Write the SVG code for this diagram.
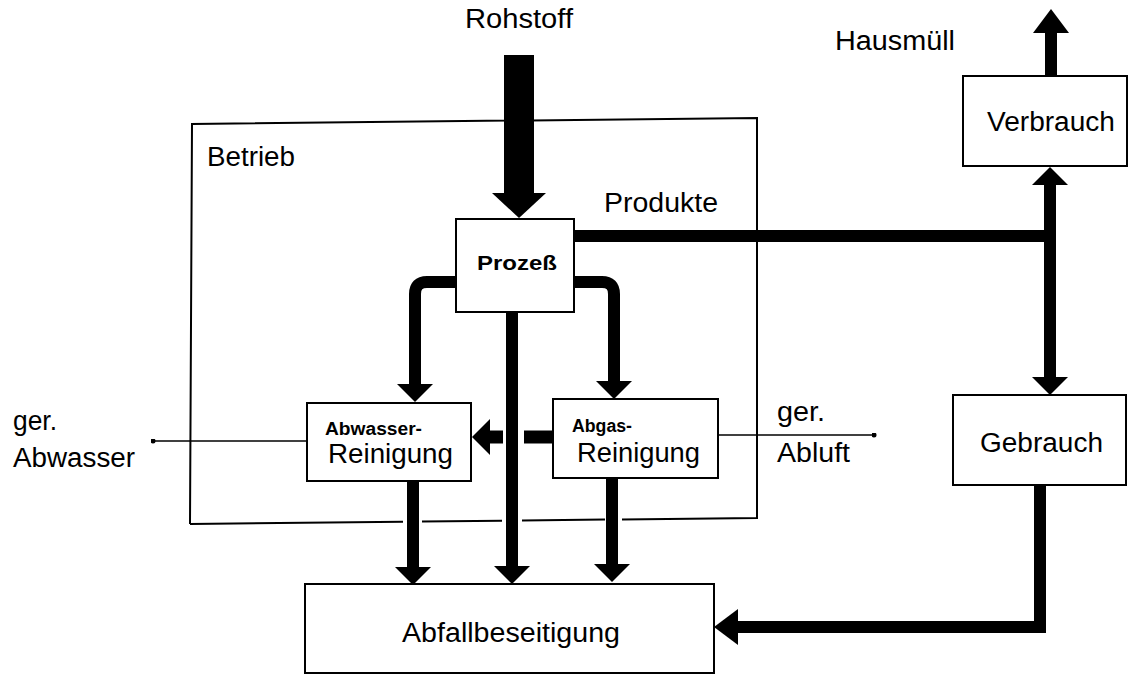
<svg xmlns="http://www.w3.org/2000/svg" width="1130" height="675" viewBox="0 0 1130 675">
  <style>
    .box { fill: #fff; stroke: #000; stroke-width: 2; }
    .frame { fill: none; stroke: #000; stroke-width: 2; }
    .flow { fill: none; stroke: #000; stroke-width: 12; stroke-linejoin: miter; }
    .thin { fill: none; stroke: #000; stroke-width: 1.6; }
    .lbl { font-family: "Liberation Sans", Arial, sans-serif; font-size: 27px; fill: #000; }
    .sm { font-family: "Liberation Sans", Arial, sans-serif; font-size: 18px; font-weight: bold; fill: #000; }
    .pz { font-family: "Liberation Sans", Arial, sans-serif; font-size: 20px; font-weight: bold; fill: #000; }
  </style>
  <defs>
    <marker id="head" viewBox="0 0 18 36" refX="0" refY="18" markerWidth="18" markerHeight="36" markerUnits="userSpaceOnUse" orient="auto-start-reverse">
      <path d="M0,0 L18,18 L0,36 Z" fill="#000"/>
    </marker>
    <marker id="headL" viewBox="0 0 24 36" refX="0" refY="18" markerWidth="24" markerHeight="36" markerUnits="userSpaceOnUse" orient="auto">
      <path d="M0,0 L24,18 L0,36 Z" fill="#000"/>
    </marker>
    <marker id="headXL" viewBox="0 0 25 54" refX="0" refY="27" markerWidth="25" markerHeight="54" markerUnits="userSpaceOnUse" orient="auto">
      <path d="M0,0 L25,27 L0,54 Z" fill="#000"/>
    </marker>
    <marker id="dot" viewBox="0 0 6 6" refX="3" refY="3" markerWidth="5" markerHeight="5" markerUnits="userSpaceOnUse">
      <circle cx="3" cy="3" r="3" fill="#000"/>
    </marker>
  </defs>

  <rect width="1130" height="675" fill="#fff"/>

  <!-- plant boundary; bottom edge left open where the waste flows pass -->
  <g id="betrieb">
    <path class="frame" d="M190,524 L192,124 L757,118 L757,518 L622,519.4 M605,519.6 L522,520.5 M502,520.7 L422,521.5 M403,521.7 L190,524"/>
    <text class="lbl" x="207" y="166" textLength="88" lengthAdjust="spacingAndGlyphs">Betrieb</text>
  </g>

  <g id="connectors">
    <!-- raw material into the process -->
    <path class="flow" style="stroke-width:30" d="M519,55 V193" marker-end="url(#headXL)"/>
    <!-- process to the two cleaning stages -->
    <path class="flow" d="M456,282 H427 Q415,282 415,294 V384" marker-end="url(#head)"/>
    <path class="flow" d="M574,282 H602 Q614,282 614,294 V381" marker-end="url(#head)"/>
    <!-- waste streams down to disposal -->
    <path class="flow" d="M512,312 V566" marker-end="url(#head)"/>
    <path class="flow" d="M413,481 V567" marker-end="url(#head)"/>
    <path class="flow" d="M612,478 V564" marker-end="url(#head)"/>
    <!-- exhaust cleaning residue to waste water cleaning -->
    <path class="flow" style="stroke-width:13" d="M553,437 H524"/>
    <path class="flow" style="stroke-width:13" d="M503,437 H490" marker-end="url(#head)"/>
    <!-- products to the consumer side -->
    <path class="flow" d="M574,236 H1056"/>
    <path class="flow" d="M1050,185 V377" marker-start="url(#head)" marker-end="url(#head)"/>
    <path class="flow" d="M1051,76 V33" marker-end="url(#headL)"/>
    <path class="flow" d="M1040,485 V627 H738" marker-end="url(#headL)"/>
    <!-- cleaned outflows -->
    <path class="thin" d="M307,441 H153" marker-end="url(#dot)"/>
    <path class="thin" d="M718,435 H874" marker-end="url(#dot)"/>
  </g>

  <g id="prozess">
    <rect class="box" x="456" y="219" width="118" height="93"/>
    <text class="pz" x="477" y="270" textLength="80" lengthAdjust="spacingAndGlyphs">Prozeß</text>
  </g>

  <g id="abwasser">
    <rect class="box" x="307" y="403" width="164" height="78"/>
    <text class="sm" x="325" y="435" textLength="97" lengthAdjust="spacingAndGlyphs">Abwasser-</text>
    <text class="lbl" x="328" y="463" textLength="125" lengthAdjust="spacingAndGlyphs">Reinigung</text>
  </g>

  <g id="abgas">
    <rect class="box" x="553" y="399" width="165" height="79"/>
    <text class="sm" x="572" y="432" textLength="60" lengthAdjust="spacingAndGlyphs">Abgas-</text>
    <text class="lbl" x="577" y="462" textLength="123" lengthAdjust="spacingAndGlyphs">Reinigung</text>
  </g>

  <g id="verbrauch">
    <rect class="box" x="963" y="76" width="164" height="90"/>
    <text class="lbl" x="987" y="131" textLength="128" lengthAdjust="spacingAndGlyphs">Verbrauch</text>
  </g>

  <g id="gebrauch">
    <rect class="box" x="953" y="395" width="173" height="90"/>
    <text class="lbl" x="980" y="452" textLength="123" lengthAdjust="spacingAndGlyphs">Gebrauch</text>
  </g>

  <g id="abfall">
    <rect class="box" x="305" y="584" width="409" height="89"/>
    <text class="lbl" x="402" y="642" textLength="218" lengthAdjust="spacingAndGlyphs">Abfallbeseitigung</text>
  </g>

  <g id="labels">
    <text class="lbl" x="465" y="28" textLength="108" lengthAdjust="spacingAndGlyphs">Rohstoff</text>
    <text class="lbl" x="835" y="50" textLength="120" lengthAdjust="spacingAndGlyphs">Hausmüll</text>
    <text class="lbl" x="604" y="212" textLength="114" lengthAdjust="spacingAndGlyphs">Produkte</text>
    <text class="lbl" x="13" y="430" textLength="44" lengthAdjust="spacingAndGlyphs">ger.</text>
    <text class="lbl" x="13" y="467" textLength="122" lengthAdjust="spacingAndGlyphs">Abwasser</text>
    <text class="lbl" x="777" y="421" textLength="48" lengthAdjust="spacingAndGlyphs">ger.</text>
    <text class="lbl" x="777" y="462" textLength="73" lengthAdjust="spacingAndGlyphs">Abluft</text>
  </g>
</svg>
